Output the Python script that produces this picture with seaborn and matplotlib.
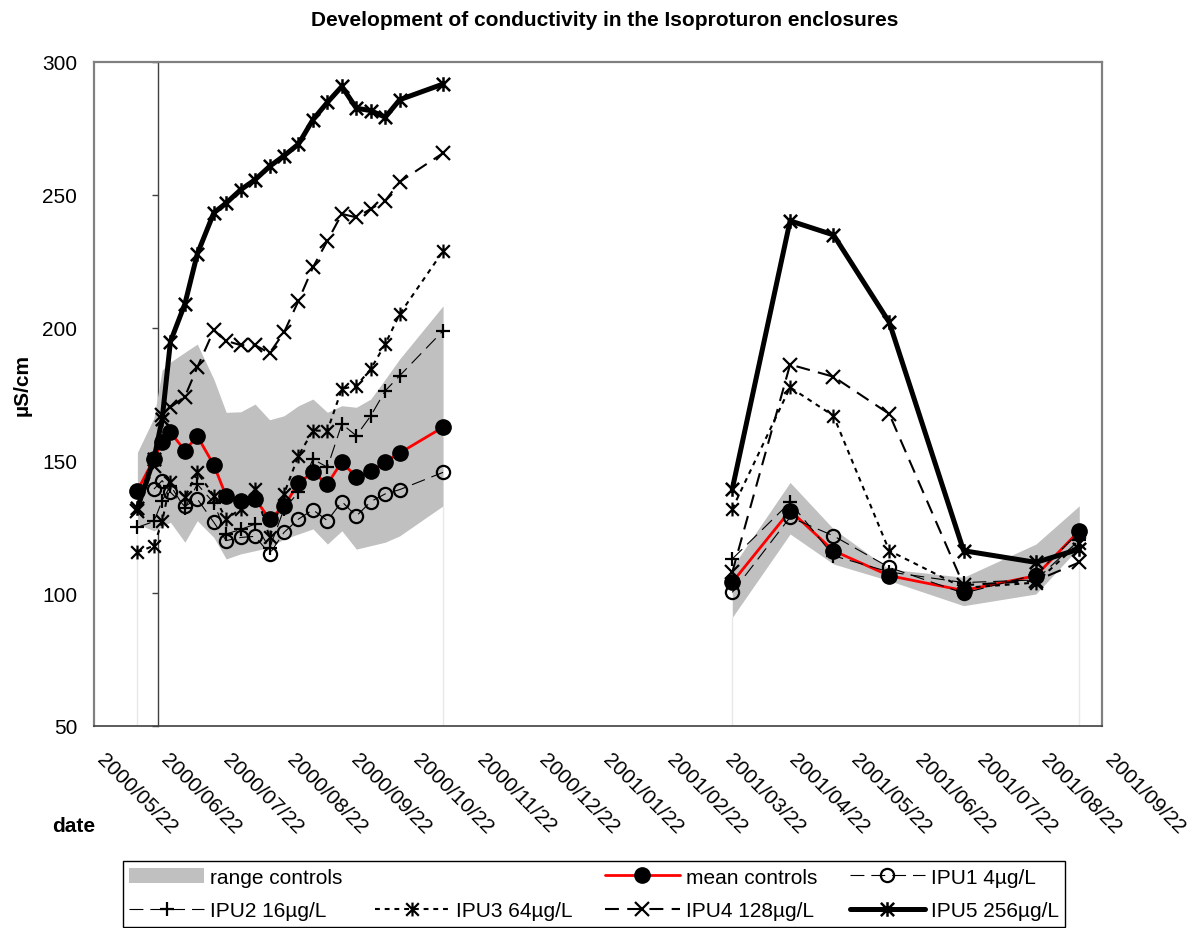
import matplotlib
matplotlib.use("Agg")
import numpy as np
import pandas as pd
import seaborn as sns
import matplotlib.pyplot as plt
import matplotlib.dates as mdates
from matplotlib.path import Path
from matplotlib.lines import Line2D
from matplotlib.patches import Patch
from matplotlib.transforms import ScaledTranslation, blended_transform_factory

sns.set_style("white")
plt.rcParams["font.family"] = ["Liberation Sans", "DejaVu Sans"]
plt.rcParams["lines.scale_dashes"] = False
for key in ["text.color", "axes.labelcolor", "xtick.color", "ytick.color"]:
    plt.rcParams[key] = "black"

# ---- sampling dates (two seasons) ----
dates = [
    "2000-06-12", "2000-06-20", "2000-06-24", "2000-06-28", "2000-07-05",
    "2000-07-11", "2000-07-19", "2000-07-25", "2000-08-01", "2000-08-08",
    "2000-08-15", "2000-08-22", "2000-08-29", "2000-09-05", "2000-09-12",
    "2000-09-19", "2000-09-26", "2000-10-03", "2000-10-10", "2000-10-17",
    "2000-11-07",
    "2001-03-27", "2001-04-24", "2001-05-15", "2001-06-11", "2001-07-17",
    "2001-08-21", "2001-09-11",
]
season = [2000] * 21 + [2001] * 7

# ---- conductivity (µS/cm) ----
range_low = [126, 123.5, 125, 126.7, 119.2, 127.3, 121, 112.9, 114.8, 116, 117.3,
             120.4, 122.3, 124.2, 118.5, 123.5, 116.6, 117.9, 119.2, 121.6, 132.9,
             90.9, 122.3, 111, 104.7, 95.3, 99.7, 117.3]
range_high = [153, 166, 184, 187, 190.7, 193.8, 180.6, 168.1, 168.3, 171.2, 165.3,
              166.8, 170.6, 173.1, 168.1, 170.6, 170, 173.1, 180.6, 188.2, 208.2,
              109.8, 141.7, 124.2, 109.1, 106, 118.5, 132.9]
mean_controls = [138.6, 150.5, 156.8, 160.6, 153.7, 159.1, 148.3, 136.5, 134.8, 135.5, 127.9,
                 132.7, 141.5, 145.5, 141.1, 149.5, 143.6, 145.9, 149.5, 152.8, 162.5,
                 104.1, 131.1, 116, 106.6, 101, 106.6, 123.5]
ipu1 = [np.nan, 139.2, 142.4, 138, 132.7, 135.5, 126.7, 119.8, 121, 121.4, 114.8,
        122.9, 127.9, 131.4, 127.3, 134.5, 129, 134.5, 137.4, 139, 145.5,
        100.3, 128.6, 121.6, 109.7, 100, 107, 123]
ipu2 = [124.8, 127, 134.8, 140.5, 132, 141, 134, 122.3, 124, 126, 117,
        131.7, 138, 150.5, 147.4, 163.7, 159.3, 166.8, 176.2, 181.9, 198.8,
        112.9, 134.2, 114.1, 108, 104, 105, 120]
ipu3 = [115.4, 117.9, 127, 141.8, 136.1, 145.5, 136.7, 127.9, 131.7, 139.2, 121,
        137.4, 151.8, 161.2, 161.2, 176.9, 178.1, 184.4, 193.8, 205.1, 228.8,
        131.7, 177.5, 166.8, 116, 102, 104, 119]
ipu4 = [131, 148, 167, 170, 174, 185, 199, 195, 193.4, 193.4, 190.4,
        198.2, 210.1, 222.7, 232.7, 242.8, 241.5, 244.7, 247.8, 254.9, 265.7,
        107.9, 186.1, 181.5, 167.5, 103, 104.7, 111.6]
ipu5 = [132, 150.5, 165.6, 194.7, 208.9, 227.7, 243.2, 246.9, 251.9, 255.7, 260.7,
        264.7, 269.1, 278.3, 284.8, 290.8, 282.6, 281.7, 279.2, 285.8, 291.7,
        139.2, 240.2, 234.9, 202, 116, 111.6, 116.6]

labels = ["range controls", "mean controls", "IPU1 4µg/L", "IPU2 16µg/L",
          "IPU3 64µg/L", "IPU4 128µg/L", "IPU5 256µg/L"]
title = "Development of conductivity in the Isoproturon enclosures"

df = pd.DataFrame({
    "date": pd.to_datetime(dates), "season": season,
    "low": range_low, "high": range_high, "mean": mean_controls,
    "ipu1": ipu1, "ipu2": ipu2, "ipu3": ipu3, "ipu4": ipu4, "ipu5": ipu5,
})

# x + vertical bar marker
STAR = Path([(-1, -1), (1, 1), (-1, 1), (1, -1), (0, -1.1), (0, 1.1)],
            [Path.MOVETO, Path.LINETO] * 3)

W, H = 1196, 929
fig = plt.figure(figsize=(W / 100, H / 100), dpi=100)
ax = fig.add_axes([94 / W, 1 - 727 / H, (1102 - 94) / W, (727 - 63) / H])

# range of the controls as a grey band per season
for _, g in df.groupby("season"):
    ax.fill_between(g["date"], g["low"], g["high"], color="#C0C0C0", lw=0, zorder=1)
    ax.vlines([g["date"].iloc[0], g["date"].iloc[-1]], 50,
              [g["low"].iloc[0], g["low"].iloc[-1]], color="#E8E8E8", lw=1, zorder=0.5)

styles = {
    "mean": dict(color="#FF0000", lw=2, linestyle="-", marker="o", markersize=11,
                 markerfacecolor="black", markeredgecolor="black", markeredgewidth=1),
    "ipu1": dict(color="black", lw=0.8, linestyle=(0, (10, 5)), marker="o", markersize=9.5,
                 markerfacecolor="none", markeredgecolor="black", markeredgewidth=1.6),
    "ipu2": dict(color="black", lw=0.8, linestyle=(0, (10, 5)), marker="+", markersize=10,
                 markerfacecolor="none", markeredgecolor="black", markeredgewidth=1.6),
    "ipu3": dict(color="black", lw=1.5, linestyle=(0, (3.5, 3.5)), marker=STAR, markersize=10,
                 markerfacecolor="none", markeredgecolor="black", markeredgewidth=1.6),
    "ipu4": dict(color="black", lw=1.5, linestyle=(0, (10, 6)), marker="x", markersize=9.5,
                 markerfacecolor="none", markeredgecolor="black", markeredgewidth=1.6),
    "ipu5": dict(color="black", lw=3.6, linestyle="-", marker=STAR, markersize=10.5,
                 markerfacecolor="none", markeredgecolor="black", markeredgewidth=1.8),
}
for z, col in enumerate(["mean", "ipu1", "ipu2", "ipu3", "ipu4", "ipu5"]):
    sns.lineplot(data=df, x="date", y=col, units="season", estimator=None, ax=ax,
                 legend=False, zorder=3 + z, **styles[col])

ax.set_xlabel("")
ax.set_ylabel("")
x0, x1 = pd.Timestamp("2000-05-22"), pd.Timestamp("2001-09-22")
ax.set_xlim(mdates.date2num(x0), mdates.date2num(x1))
ax.set_ylim(50, 300)

# monthly ticks on the 22nd; slanted labels hang from each tick
month_ticks = [x0 + pd.DateOffset(months=k) for k in range(17)]
ax.set_xticks([mdates.date2num(t) for t in month_ticks])
ax.set_xticklabels([])
ax.tick_params(axis="x", length=4.5, width=1, color="#404040", direction="out")
label_tf = blended_transform_factory(ax.transData, ax.transAxes) + \
    ScaledTranslation(13 / 100, -23 / 100, fig.dpi_scale_trans)
for t in month_ticks:
    ax.text(mdates.date2num(t), 0, t.strftime("%Y/%m/%d"), transform=label_tf,
            rotation=-45, rotation_mode="anchor", ha="left", va="top",
            fontsize=15, color="black", clip_on=False)

ax.set_yticks(np.arange(50, 301, 50))
ax.tick_params(axis="y", length=0, pad=12, labelsize=15)

for side in ["left", "top", "right"]:
    ax.spines[side].set_color("#808080")
    ax.spines[side].set_linewidth(1.6)
ax.spines["bottom"].set_color("#404040")
ax.spines["bottom"].set_linewidth(1.2)

# value axis crossing at 2000/06/22
cross = (pd.Timestamp("2000-06-22") - x0) / (x1 - x0)
sec = ax.secondary_yaxis(cross)
sec.set_yticks(np.arange(50, 301, 50))
sec.set_yticklabels([])
sec.tick_params(axis="y", length=4.5, width=1, color="#404040", direction="out")
sec.spines["left"].set_color("#404040")
sec.spines["left"].set_linewidth(1)

fig.text(605 / W, 1 - 20 / H, title, ha="center", va="center", fontsize=15,
         fontweight="bold", color="black")
fig.text(22 / W, 1 - 385 / H, "µS/cm", rotation=90, ha="center", va="center",
         fontsize=15, fontweight="bold", color="black")
fig.text(52 / W, 1 - 826 / H, "date", ha="left", va="center", fontsize=15,
         fontweight="bold", color="black")

def proxy(col):
    return Line2D([], [], **styles[col])

blank = Line2D([], [], linestyle="none", marker="none")
handles = [Patch(facecolor="#C0C0C0", edgecolor="none"), proxy("ipu2"),
           blank, proxy("ipu3"),
           proxy("mean"), proxy("ipu4"),
           proxy("ipu1"), proxy("ipu5")]
leg_labels = [labels[0], labels[3], "", labels[4], labels[1], labels[5], labels[2], labels[6]]
leg = fig.legend(handles, leg_labels, ncol=4, loc="center", mode="expand",
                 bbox_to_anchor=(123 / W, 1 - 928 / H, (1065 - 123) / W, (928 - 862) / H),
                 fontsize=15, frameon=True, fancybox=False, framealpha=1,
                 edgecolor="black", borderaxespad=0, handlelength=3.6,
                 handletextpad=0.3, labelspacing=0.7, borderpad=0.3, columnspacing=1.0)
leg.get_frame().set_linewidth(1)
for t in leg.get_texts():
    t.set_color("black")

fig.savefig("out.png", dpi=100)
